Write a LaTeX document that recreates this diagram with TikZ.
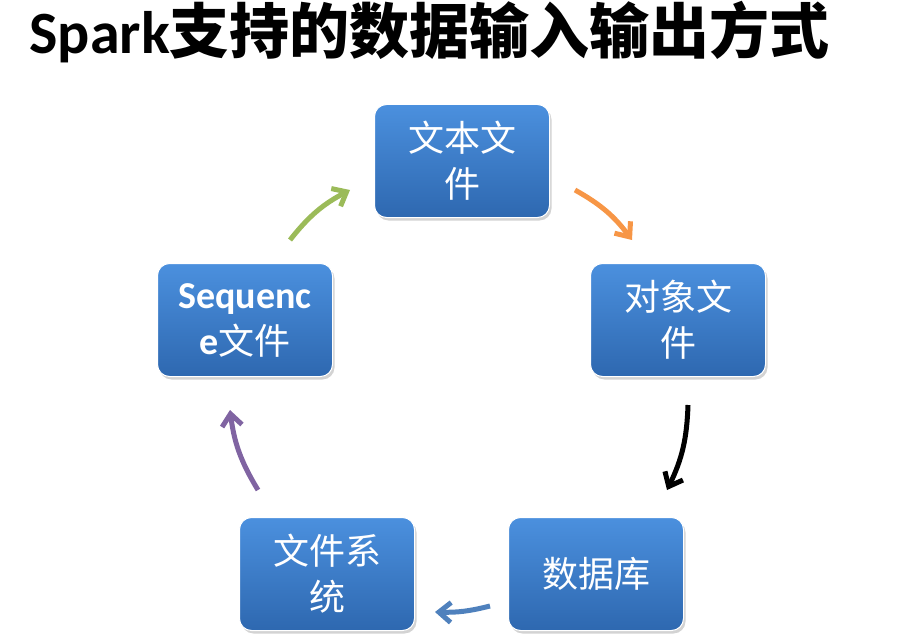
\documentclass[tikz,border=0pt]{standalone}
\usepackage{fontspec}
\setmainfont{Carlito}
\newfontfamily\cjk{Noto Sans CJK SC}
\usetikzlibrary{shadows,arrows.meta}
\definecolor{btop}{HTML}{4B90DE}
\definecolor{bbot}{HTML}{2E68B0}
\begin{document}
\begin{tikzpicture}[x=1pt,y=-1pt,
  box/.style={rectangle,rounded corners=12pt,minimum width=175pt,minimum height=113pt,
    top color=btop,bottom color=bbot,draw=white,line width=1pt,
    drop shadow={shadow xshift=2pt,shadow yshift=-3pt,opacity=0.35},
    text=white,align=center,font=\cjk\fontsize{36}{46}\selectfont},
  arr/.style={line width=5pt,-{Straight Barb[length=12pt,width=20pt,line width=5pt]}}]
\useasboundingbox (0,0) rectangle (914,642);
\node[anchor=west,font=\fontsize{60}{66}\selectfont\bfseries] (title) at (26,32)
  {Spark{\cjk\fontsize{60}{66}\selectfont 支持的数据输入输出方式}};
\node[box] (a) at (462,161) {文本文\\件};
\node[box] (b) at (678,320) {对象文\\件};
\node[box] (c) at (596,574) {数据库};
\node[box] (d) at (327,574) {文件系\\统};
\node[box] (e) at (245,320) {{\rmfamily\bfseries\fontsize{38}{46}\selectfont Sequenc}\\{\rmfamily\bfseries\fontsize{38}{46}\selectfont e}文件};
\coordinate (g1) at (290,240); \coordinate (g2) at (350,190);
\coordinate (o1) at (575,190); \coordinate (o2) at (632,240);
\coordinate (k1) at (688,405); \coordinate (k2) at (667,490);
\coordinate (u1) at (490,606); \coordinate (u2) at (435,612);
\coordinate (p1) at (258,490); \coordinate (p2) at (230,410);
\draw[arr,color={rgb,255:red,155;green,187;blue,89}] (g1) to[bend left=12] (g2);
\draw[arr,color={rgb,255:red,247;green,150;blue,70}] (o1) to[bend left=12] (o2);
\draw[arr,color=black] (k1) to[bend left=12] (k2);
\draw[arr,color={rgb,255:red,79;green,129;blue,189}] (u1) to[bend left=8] (u2);
\draw[arr,color={rgb,255:red,128;green,100;blue,162}] (p1) to[bend left=12] (p2);
\end{tikzpicture}
\end{document}
